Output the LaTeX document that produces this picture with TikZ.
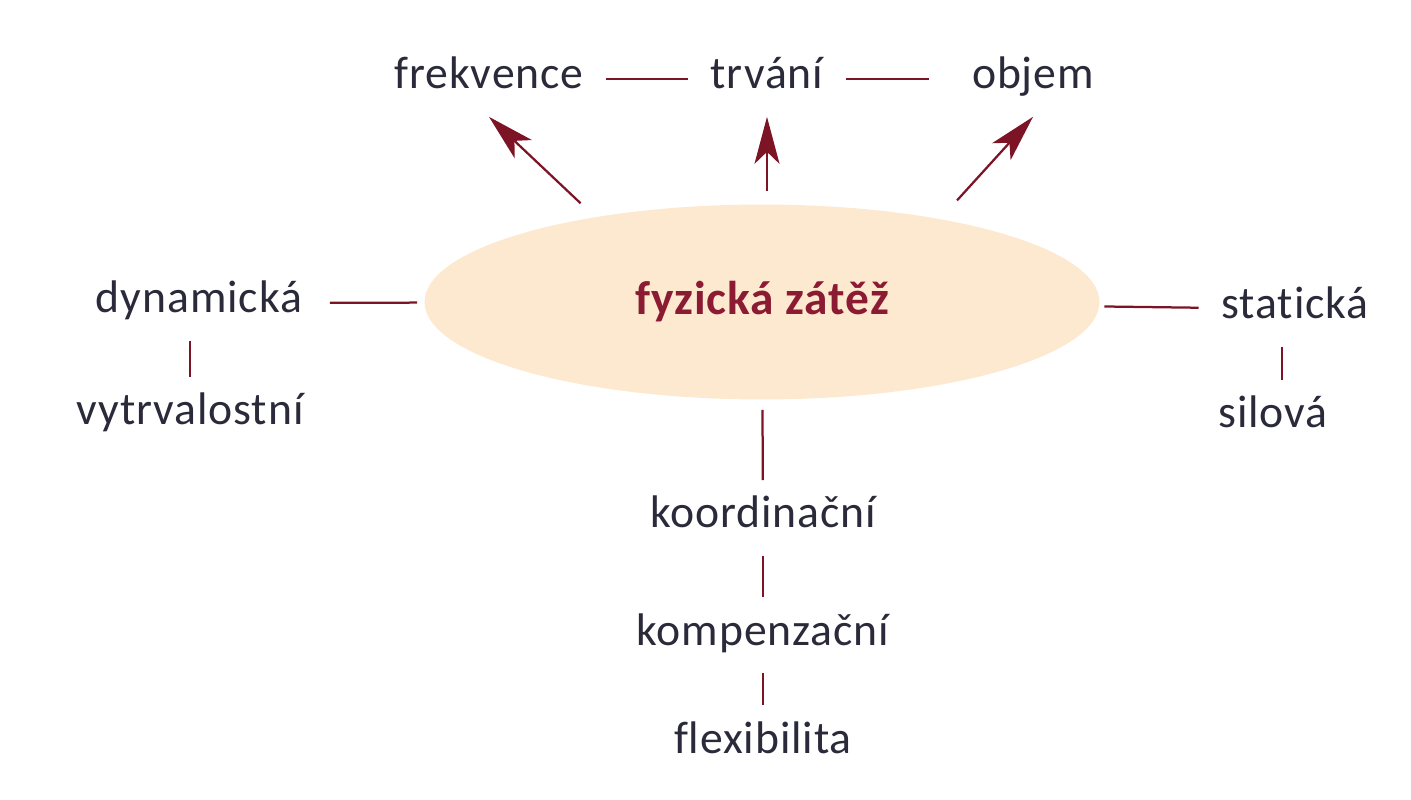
\documentclass[tikz,border=0pt]{standalone}
\usepackage{fontspec}
\setmainfont{Carlito}[LetterSpace=2,Ligatures=NoCommon]
\usetikzlibrary{arrows.meta,shapes.geometric}
\definecolor{wine}{HTML}{7D1426}
\definecolor{ink}{HTML}{2A2A3A}
\definecolor{peach}{HTML}{FDE9CF}
\definecolor{titlered}{HTML}{8B1A33}
\tikzset{
	>={Stealth[length=0.94cm,width=0.5cm,inset=0.24cm]},
	word/.style={text=ink,font=\fontsize{26}{31}\selectfont,anchor=base,
			text height=0.55cm,text depth=0.15cm,inner xsep=0.45cm,inner ysep=0.4cm},
	link/.style={draw=wine,line width=0.045cm}
}

\begin{document}
\begin{tikzpicture}[x=0.02cm,y=-0.02cm]
	\useasboundingbox (0,0) rectangle (1411,800);

	\node[ellipse,fill=peach,minimum width=13.5cm,minimum height=3.9cm,inner sep=0pt,
		text=titlered,font=\bfseries\fontsize{27}{32}\selectfont] (fz) at (762,302) {fyzická zátěž};

	\node[word] (frek) at (489,89) {frekvence};
	\node[word] (trv) at (767,89) {trvání};
	\node[word] (obj) at (1033,89) {objem};

	\node[word] (dyn) at (199,313) {dynamická};
	\node[word] (vyt) at (190,425) {vytrvalostní};

	\node[word] (sta) at (1295,319) {statická};
	\node[word] (sil) at (1273,428) {silová};
	\coordinate (sc) at (1282,0);

	\node[word] (koor) at (763,528) {koordinační};
	\node[word] (komp) at (763,645) {kompenzační};
	\node[word] (flex) at (763,753) {flexibilita};

	\draw[link] (frek) -- (trv);
	\draw[link,shorten >=0.4cm] (trv) -- (obj);

	\draw[link,->,shorten <=0.4cm] (fz.153) -- (frek.south);
	\draw[link,->,shorten <=0.26cm] (fz.north -| trv.south) -- (trv.south);
	\draw[link,->,shorten <=0.5cm] (fz.25) -- (obj.south);

	\draw[link,shorten <=0.1cm,shorten >=0.14cm] (dyn) -- (fz);
	\draw[link] (dyn.south -| vyt) -- (vyt);
	\draw[link,shorten <=0.1cm] (fz) -- (sta);
	\draw[link] (sta.south -| sc) -- (sil.north -| sc);

	\draw[link,shorten <=0.2cm] (fz) -- (koor);
	\draw[link] (koor) -- (komp);
	\draw[link] (komp) -- (flex);
\end{tikzpicture}
\end{document}
